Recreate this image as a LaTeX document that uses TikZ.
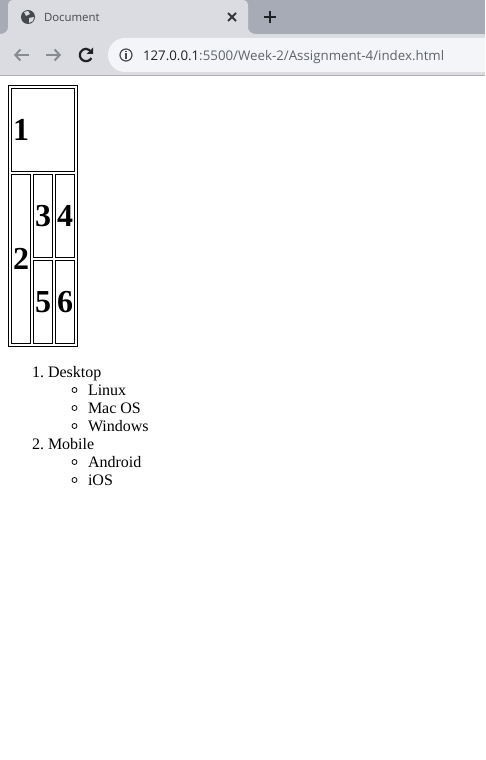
\documentclass[tikz,border=0pt]{standalone}
\usepackage{fontspec}
\setmainfont{Liberation Serif}
\newfontfamily\uifont{Open Sans}
\usepackage{xcolor}
\usetikzlibrary{arrows.meta, positioning}

\definecolor{stripgray}{RGB}{166,171,182}
\definecolor{tabgray}{RGB}{218,220,225}
\definecolor{urlfill}{RGB}{243,245,248}
\definecolor{edgegray}{RGB}{176,176,180}
\definecolor{icondark}{RGB}{70,73,78}
\definecolor{urlgray}{RGB}{95,99,104}
\definecolor{urldark}{RGB}{32,33,36}
\definecolor{navgray}{RGB}{136,139,144}

\begin{document}
\begin{tikzpicture}[
    x=1pt, y=-1pt,
    cell/.style={draw, line width=1pt, inner sep=0pt, outer sep=0pt, anchor=north west, text height=21pt, text depth=0pt, font=\fontsize{32}{32}\selectfont\bfseries},
    listitem/.style={inner sep=0pt, outer sep=0pt, anchor=base west, font=\fontsize{16}{16}\selectfont},
    bullet/.style={circle, draw, line width=0.8pt, inner sep=0pt, outer sep=0pt, minimum size=5pt},
    uitext/.style={inner sep=0pt, outer sep=0pt, anchor=base west},
    icon/.style={line width=1.8pt},
    navarrow/.style={icon, navgray, -{Straight Barb[length=5pt, width=11pt, line width=2pt]}}
]
\useasboundingbox (0,0) rectangle (485,760);

% Browser chrome
\fill[white] (0,0) rectangle (485,760);
\fill[stripgray] (0,0) rectangle (485,34);
\fill[tabgray] (0,34) rectangle (485,75);
\fill[tabgray] (0,34) .. controls (5,34) and (8,31) .. (8,27) -- (8,6) .. controls (8,2) and (10,0) .. (14,0) -- (242,0) .. controls (246,0) and (248,2) .. (248,6) -- (248,27) .. controls (248,31) and (251,34) .. (256,34) -- cycle;
\fill[edgegray] (0,75) rectangle (485,76);
\fill[urlfill] (485,38) -- (125,38) arc[start angle=270, end angle=90, radius=17] -- (485,72) -- cycle;

% Tab
\node (globe) [circle, fill=icondark, minimum size=14pt, inner sep=0pt] at (28,17) {};
\fill[tabgray] (24,12) -- (28,11) -- (30,14) -- (26,16) -- cycle;
\fill[tabgray] (29,18) -- (34,17) -- (33,21) -- (29,23) -- cycle;
\node (title) [uitext, font=\uifont\fontsize{11.4}{12}\selectfont, text=icondark] at (44,21.5) {Document};
\coordinate (closea) at (228,13);
\coordinate (closeb) at (236,21);
\coordinate (closec) at (228,21);
\coordinate (closed) at (236,13);
\draw[icon, urldark!90] (closea) -- (closeb);
\draw[icon, urldark!90] (closec) -- (closed);
\coordinate (plusl) at (264,17);
\coordinate (plusr) at (276,17);
\coordinate (plust) at (270,11);
\coordinate (plusb) at (270,23);
\draw[icon, urldark] (plusl) -- (plusr);
\draw[icon, urldark] (plust) -- (plusb);

% Toolbar
\coordinate (backa) at (29,55);
\coordinate (backb) at (14,55);
\coordinate (fwda) at (46,55);
\coordinate (fwdb) at (61,55);
\draw[navarrow] (backa) -- (backb);
\draw[navarrow] (fwda) -- (fwdb);
\draw[line width=2.2pt, urldark] (91.4,58.1) arc[start angle=30, end angle=310, radius=6.2];
\fill[urldark] (93,47.5) -- (93,54) -- (86.5,54) -- cycle;
\node (info) [circle, draw=icondark, line width=1.2pt, minimum size=12pt, inner sep=0pt] at (126,55) {};
\fill[icondark] (125.3,53.5) rectangle (126.7,59);
\fill[icondark] (125.3,50.8) rectangle (126.7,52.3);
\node (url) [uitext, font=\uifont\fontsize{13.3}{14}\selectfont, text=urlgray] at (143,60) {\textcolor{urldark}{127.0.0.1}:5500/Week-2/Assignment-4/index.html};

% Table
\node (outer) [draw, line width=1pt, inner sep=0pt, outer sep=0pt, minimum width=69pt, minimum height=261pt, anchor=north west] at (8.5,85.5) {};
\node (one) [cell, minimum width=63pt, minimum height=83pt, text width=60pt, align=left, inner xsep=1.5pt] at (11.5,88.5) {1};
\node (two) [cell, minimum width=19pt, minimum height=169pt, below=3pt of one.south west, anchor=north west] {2};
\node (three) [cell, minimum width=19pt, minimum height=83pt, right=3pt of two.north east, anchor=north west] {3};
\node (four) [cell, minimum width=19pt, minimum height=83pt, right=3pt of three.north east, anchor=north west] {4};
\node (five) [cell, minimum width=19pt, minimum height=83pt, below=3pt of three.south west, anchor=north west] {5};
\node (six) [cell, minimum width=19pt, minimum height=83pt, below=3pt of four.south west, anchor=north west] {6};

% List
\node (numa) [listitem] at (32,377) {1.};
\node (desktop) [listitem] at (48,377) {Desktop};
\node (linux) [listitem] at (88,395) {Linux};
\node (mac) [listitem] at (88,413) {Mac OS};
\node (windows) [listitem] at (88,431) {Windows};
\node (numb) [listitem] at (32,449) {2.};
\node (mobile) [listitem] at (48,449) {Mobile};
\node (android) [listitem] at (88,467) {Android};
\node (ios) [listitem] at (88,485) {iOS};
\node (dota) [bullet] at (74.5,390) {};
\node (dotb) [bullet] at (74.5,408) {};
\node (dotc) [bullet] at (74.5,426) {};
\node (dotd) [bullet] at (74.5,462) {};
\node (dote) [bullet] at (74.5,480) {};

\end{tikzpicture}
\end{document}
